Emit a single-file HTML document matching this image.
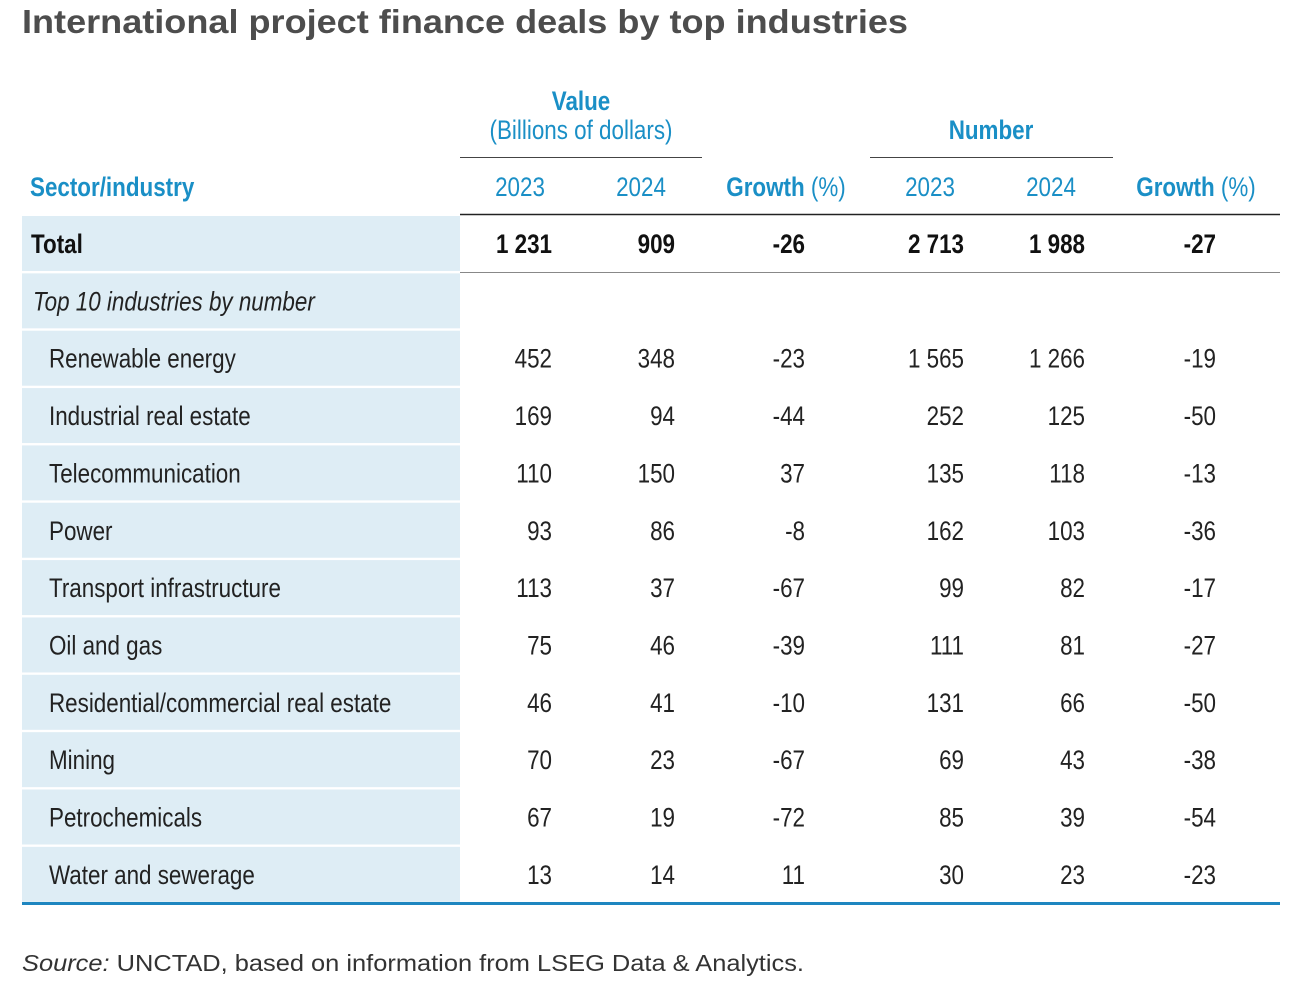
<!DOCTYPE html>
<html><head><meta charset="utf-8"><style>
html,body{margin:0;padding:0;background:#fff;}
svg{display:block;font-family:"Liberation Sans",Arial,sans-serif;}
</style></head><body>
<svg id="s" width="1294" height="996" viewBox="0 0 1294 996" xmlns="http://www.w3.org/2000/svg">
<text x="22" y="33" font-size="33" font-weight="bold" fill="#4d4d4d" textLength="886" lengthAdjust="spacingAndGlyphs">International project finance deals by top industries</text>
<text x="22" y="971" font-size="23" fill="#333" textLength="782" lengthAdjust="spacingAndGlyphs"><tspan font-style="italic">Source:</tspan> UNCTAD, based on information from LSEG Data &amp; Analytics.</text>
<line x1="460" y1="157.5" x2="702" y2="157.5" stroke="#444" stroke-width="1"/>
<line x1="870" y1="157.5" x2="1113" y2="157.5" stroke="#444" stroke-width="1"/>
<line x1="460" y1="214.5" x2="1280" y2="214.5" stroke="#222" stroke-width="1.5"/>
<line x1="460" y1="272.5" x2="1280" y2="272.5" stroke="#888" stroke-width="1"/>
<line x1="22" y1="903.5" x2="1280" y2="903.5" stroke="#1e86c0" stroke-width="3"/>
</svg>
<script>
const labels=["Total","Top 10 industries by number","Renewable energy","Industrial real estate","Telecommunication","Power","Transport infrastructure","Oil and gas","Residential/commercial real estate","Mining","Petrochemicals","Water and sewerage"];
const value2023=["1 231","","452","169","110","93","113","75","46","70","67","13"];
const value2024=["909","","348","94","150","86","37","46","41","23","19","14"];
const valueGrowth=["-26","","-23","-44","37","-8","-67","-39","-10","-67","-72","11"];
const number2023=["2 713","","1 565","252","135","162","99","111","131","69","85","30"];
const number2024=["1 988","","1 266","125","118","103","82","81","66","43","39","23"];
const numberGrowth=["-27","","-19","-50","-13","-36","-17","-27","-50","-38","-54","-23"];
const NS="http://www.w3.org/2000/svg";
const svg=document.getElementById('s');
const SX=0.83;
function txt(str,x,y,opt){
  const t=document.createElementNS(NS,'text');
  t.textContent=str;
  t.setAttribute('transform','translate('+x+','+y+') scale('+SX+',1)');
  t.setAttribute('font-size',opt.size||27);
  t.setAttribute('fill',opt.fill||'#222');
  if(opt.bold)t.setAttribute('font-weight','bold');
  if(opt.italic)t.setAttribute('font-style','italic');
  t.setAttribute('text-anchor',opt.anchor||'start');
  svg.appendChild(t);
  return t;
}
const blue='#1a8fc6';
let h;
h=txt('Value',581,110,{bold:1,fill:blue,anchor:'middle'});


h=txt('(Billions of dollars)',581,139,{fill:blue,anchor:'middle'});


h=txt('Number',991,139,{bold:1,fill:blue,anchor:'middle'});


h=txt('Sector/industry',30,196,{bold:1,fill:blue});


const heads=[['2023',520,0],['2024',641,0],['Growth',786,1],['2023',930,0],['2024',1051,0],['Growth',1196,1]];
heads.forEach((c,i)=>{
  const t=txt('',c[1],196,{fill:blue,anchor:'middle'});
  if(c[2]){const a=document.createElementNS(NS,'tspan');a.setAttribute('font-weight','bold');a.textContent='Growth';t.appendChild(a);const b=document.createElementNS(NS,'tspan');b.textContent=' (%)';t.appendChild(b);}
  else t.textContent=c[0];
  
  
});
const cols=[[value2023,552],[value2024,675],[valueGrowth,805],[number2023,964],[number2024,1085],[numberGrowth,1216]];
labels.forEach((lab,i)=>{
  const top=216+i*57.35;
  const r=document.createElementNS(NS,'rect');
  r.setAttribute('x',22);r.setAttribute('y',top);r.setAttribute('width',438);r.setAttribute('height',55);
  r.setAttribute('fill','#deedf5');
  
  
  svg.insertBefore(r,svg.firstChild);
  const base=top+37;
  const isTotal=i===0, isSub=i===1;
  const l=txt(lab,isTotal?31:(isSub?33:49),base,{bold:isTotal,italic:isSub,fill:isTotal?'#111':'#222'});
  
  
  cols.forEach(c=>{
    if(!c[0][i])return;
    const v=txt(c[0][i],c[1],base,{bold:isTotal,fill:isTotal?'#111':'#222',anchor:'end'});
    
    
  });
});
</script>
</body></html>
